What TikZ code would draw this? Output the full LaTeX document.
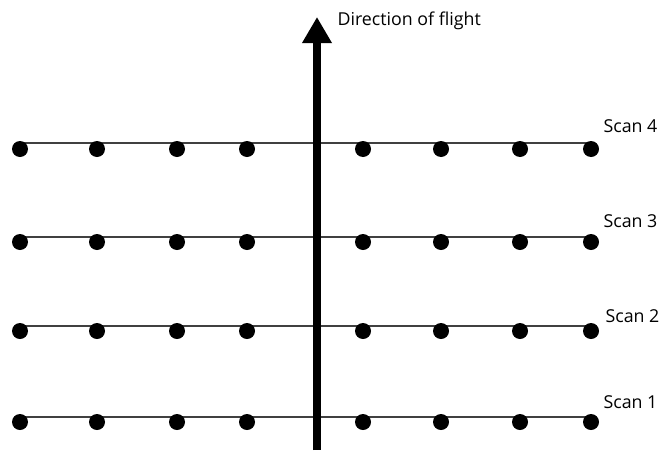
\documentclass[tikz,border=0pt]{standalone}
\usepackage{fontspec}
\setmainfont{Open Sans}
\usetikzlibrary{arrows.meta}
\definecolor{scanline}{RGB}{64,64,64}
\tikzset{
  dot/.style={circle, fill=black, inner sep=0pt, minimum size=16pt},
  scanlabel/.style={anchor=base west, font=\fontsize{17.8}{20}\selectfont},
  scan/.style={draw=scanline, line width=1.3pt},
  flight/.style={-{Triangle[width=28pt,length=26pt]}, line width=8pt},
}

\begin{document}
\begin{tikzpicture}[x=1pt, y=-1pt]
  \useasboundingbox (0,0) rectangle (661,450);

  % scan lines and labels
  \foreach \r/\ly/\tx/\ty in {1/417/600/408, 2/326/602/322, 3/237/600/227, 4/143/600/132} {
    \coordinate (L\r) at (20,\ly);
    \coordinate (R\r) at (591,\ly);
    \draw[scan] (L\r) -- (R\r);
    \node[scanlabel] (S\r) at (\tx,\ty) {Scan \r};
  }

  % sample points
  \foreach \r/\dy in {1/422, 2/331, 3/242, 4/149} {
    \foreach \c/\dx in {1/20, 2/97, 3/177, 4/247, 5/363, 6/441, 7/520, 8/591} {
      \node[dot] (P\r\c) at (\dx,\dy) {};
    }
  }

  % flight direction
  \coordinate (tail) at (317,450);
  \coordinate (head) at (317,17);
  \draw[flight] (tail) -- (head);
  \node[scanlabel] (dir) at (334,25) {Direction of flight};
\end{tikzpicture}
\end{document}
